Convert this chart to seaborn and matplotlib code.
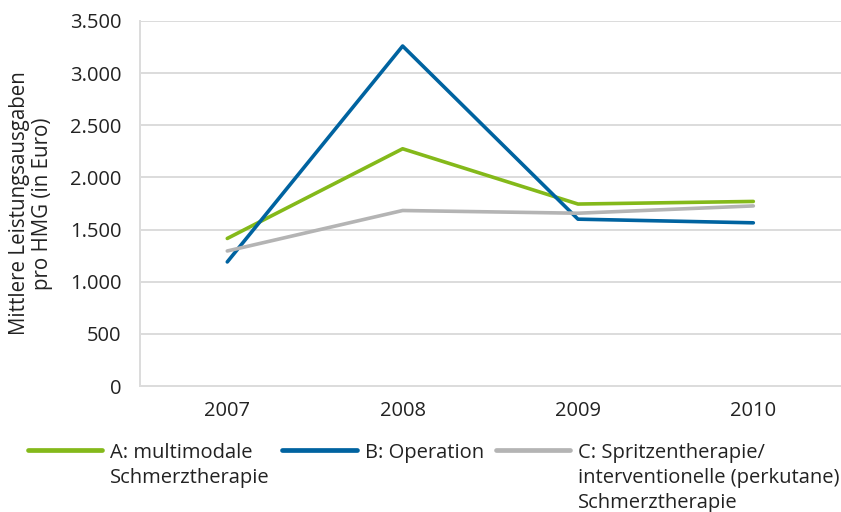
import matplotlib
matplotlib.use('Agg')
import matplotlib.pyplot as plt
import matplotlib.ticker as mticker
import pandas as pd
import seaborn as sns

# values
years = ['2007', '2008', '2009', '2010']
multimodal = [1415, 2275, 1745, 1770]
operation = [1190, 3260, 1600, 1565]
spritzen = [1295, 1683, 1657, 1727]

labels = ['A: multimodale\nSchmerztherapie',
          'B: Operation',
          'C: Spritzentherapie/\ninterventionelle (perkutane)\nSchmerztherapie']
colors = ['#84b91a', '#0063a0', '#b4b4b4']

df = pd.DataFrame({
    'Jahr': years * 3,
    'Wert': multimodal + operation + spritzen,
    'Gruppe': [labels[0]] * 4 + [labels[1]] * 4 + [labels[2]] * 4,
})

sns.set_style('white')
plt.rcParams['font.family'] = ['Open Sans', 'DejaVu Sans']
plt.rcParams['font.size'] = 14

fig = plt.figure(figsize=(8.41, 5.12), dpi=100)
ax = fig.add_axes([0.166, 0.246, 0.834, 0.713])

sns.lineplot(data=df, x='Jahr', y='Wert', hue='Gruppe', palette=colors,
             linewidth=2.6, ax=ax, legend=False, sort=False)

ax.set_xlim(-0.5, 3.5)
ax.set_ylim(0, 3500)
ax.yaxis.set_major_locator(mticker.MultipleLocator(500))
ax.yaxis.set_major_formatter(mticker.FuncFormatter(lambda v, p: f'{int(v):,}'.replace(',', '.')))
ax.grid(axis='y', color='#dcdcdc', linewidth=1.4)
ax.set_axisbelow(True)
for s in ['top', 'right']:
    ax.spines[s].set_visible(False)
for s in ['left', 'bottom']:
    ax.spines[s].set_color('#dcdcdc')
    ax.spines[s].set_linewidth(1.4)
ax.tick_params(axis='both', length=0, labelsize=14.5, colors='#222222')
ax.tick_params(axis='y', pad=13)
ax.tick_params(axis='x', pad=11)
ax.set_xlabel('')
ax.set_ylabel('Mittlere Leistungsausgaben\npro HMG (in Euro)', fontsize=14.8,
              color='#222222', labelpad=12, linespacing=1.12)

handles = [plt.Line2D([], [], color=c, linewidth=3.4) for c in colors]
leg = fig.legend(handles, labels, ncol=3, loc='upper left', bbox_to_anchor=(0.033, 0.134),
                 frameon=False, fontsize=14.5, handlelength=3.7, handletextpad=0.4,
                 columnspacing=0.6, borderaxespad=0, borderpad=0, labelcolor='#222222')
for t in leg.get_texts():
    t.set_linespacing(1.32)
# handles next to the first line, columns aligned at the top
leg._legend_handle_box.align = 'top'
for col in leg._legend_handle_box.get_children():
    col.align = 'left'
    for item in col.get_children():
        item.align = 'top'

fig.savefig('out.png', dpi=100)
